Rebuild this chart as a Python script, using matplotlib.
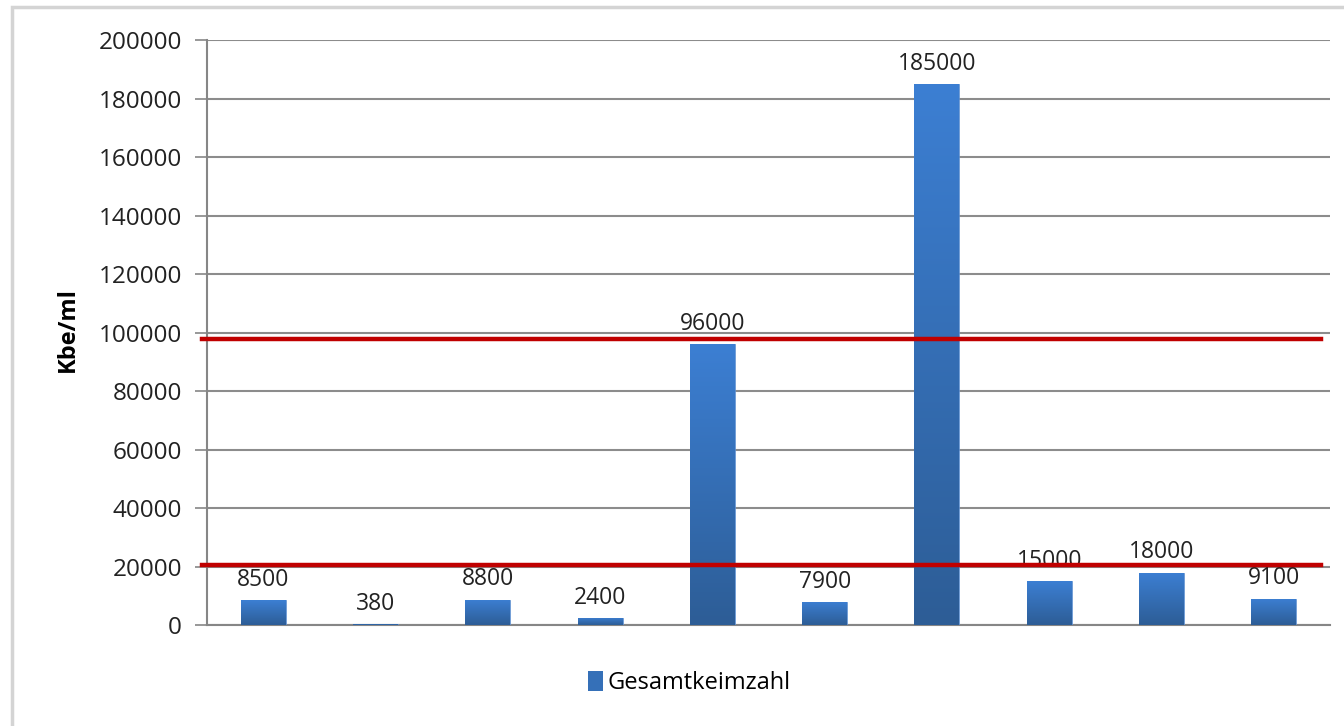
import matplotlib
matplotlib.use('Agg')
import matplotlib.pyplot as plt
import matplotlib.transforms as mtransforms
from matplotlib.colors import LinearSegmentedColormap
from matplotlib.patches import Patch, Rectangle
import numpy as np

plt.rcParams['font.family'] = ['Open Sans', 'DejaVu Sans']

# Messwerte Gesamtkeimzahl (Kbe/ml) je Probe
proben = ['P1', 'P2', 'P3', 'P4', 'P5', 'P6', 'P7', 'P8', 'P9', 'P10']
keimzahl = [8500, 380, 8800, 2400, 96000, 7900, 185000, 15000, 18000, 9100]
# Grenzwerte (rote Linien)
grenzwerte = [98000, 20500]

fig = plt.figure(figsize=(13.44, 7.26), dpi=100)
ax = fig.add_axes([0.154, 0.1386, 0.8356, 0.8063])

# Rahmen um das Diagramm
fig.patches.append(Rectangle((0.009, -0.05), 1.2, 1.04, transform=fig.transFigure,
                             fill=False, edgecolor='#d4d4d4', linewidth=2.5))

x = np.arange(len(proben))
bars = ax.bar(x, keimzahl, width=0.4, color='#3570b8', zorder=3)

# Verlauf in den Balken: oben hell, unten dunkel
cmap = LinearSegmentedColormap.from_list('blau', ['#2d5d96', '#3c7fd3'])
grad = np.linspace(0, 1, 256).reshape(-1, 1)
for b in bars:
    x0, w, h = b.get_x(), b.get_width(), b.get_height()
    im = ax.imshow(grad, cmap=cmap, aspect='auto', origin='lower',
                   extent=[x0, x0 + w, 0, h], zorder=3)
    im.set_clip_path(b)
    b.set_facecolor('none')
    b.set_edgecolor('#5b8ed0')
    b.set_linewidth(0.6)

# Wertebeschriftung
for i, v in enumerate(keimzahl):
    ax.annotate(f'{v}', (i, v), xytext=(0, 6), textcoords='offset points',
                ha='center', va='bottom', fontsize=16.5, color='#222222')

ax.set_xlim(-0.5, len(proben) - 0.5)
ax.set_ylim(0, 200000)
ax.set_yticks(np.arange(0, 200001, 20000))
ax.set_xticks([])
ax.tick_params(axis='y', length=9, width=1.2, color='#868686', labelsize=17.5,
               labelcolor='#222222', pad=9)
ax.grid(True, axis='y', color='#8c8c8c', linewidth=1.5, zorder=0)
for s in ['top', 'right']:
    ax.spines[s].set_visible(False)
for s in ['left', 'bottom']:
    ax.spines[s].set_color('#868686')
    ax.spines[s].set_linewidth(1.5)
ax.set_ylabel('Kbe/ml', fontsize=17, fontweight='bold')
ax.yaxis.set_label_coords(-0.113, 0.505)

# Grenzwertlinien
trans = mtransforms.blended_transform_factory(ax.transAxes, ax.transData)
for g in grenzwerte:
    ax.plot([-0.004, 0.992], [g, g], transform=trans, color='#c00000',
            linewidth=3.2, zorder=5, clip_on=False)

fig.legend(handles=[Patch(facecolor='#3570b8', label='Gesamtkeimzahl')],
           loc='center', bbox_to_anchor=(0.513, 0.059), frameon=False,
           fontsize=17, handlelength=0.6, handleheight=0.9, handletextpad=0.2)

fig.savefig('out.png', dpi=100, facecolor='white')
